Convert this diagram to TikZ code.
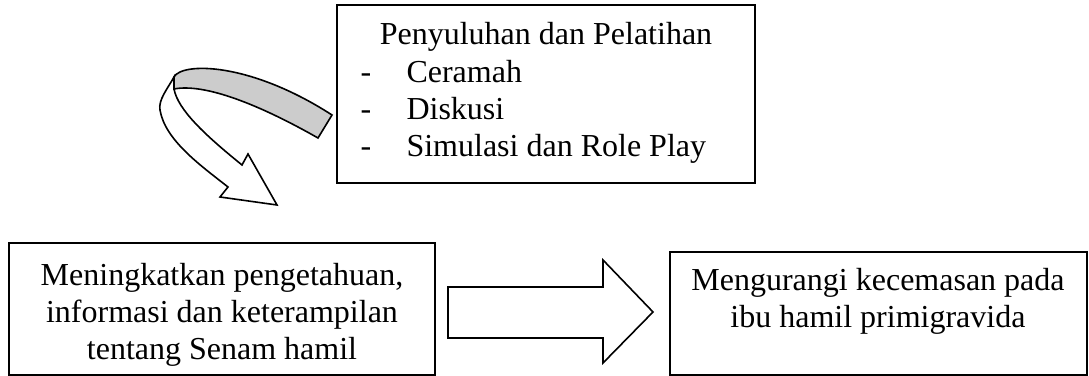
\documentclass[tikz,border=0pt]{standalone}
\usepackage{fontspec}
\setmainfont{Liberation Serif}
\usepackage{tikz}
\newdimen\unitpx
\unitpx=0.375pt

\begin{document}
\begin{tikzpicture}[x=0.375pt,y=-0.375pt,
    frame/.style={draw=black,line width=0.6pt,inner sep=0pt},
    txt/.style={inner sep=0pt,font=\fontsize{12}{13.9}\selectfont},
    shapeline/.style={draw=black,line width=0.6pt,line join=miter}]

\useasboundingbox (0,0) rectangle (1089,376);

% boxes
\node[frame,line width=0.9pt,minimum width=418\unitpx,minimum height=178\unitpx] (train) at (546,94) {};
\node[frame,minimum width=426\unitpx,minimum height=132\unitpx] (know) at (222,309) {};
\node[frame,minimum width=417\unitpx,minimum height=123\unitpx] (reduce) at (878.5,313.5) {};

% texts
\node[txt,anchor=base] (title) at (546,45) {Penyuluhan dan Pelatihan};
\foreach \lbl [count=\i] in {Ceramah,Diskusi,Simulasi dan Role Play}{
  \node[txt,anchor=base west] (dash\i) at (360,{46+37*\i}) {-};
  \node[txt,anchor=base west] (item\i) at (406,{46+37*\i}) {\lbl};
}
\node[txt,align=center,anchor=north] (knowtext) at (222,263) {Meningkatkan pengetahuan,\\informasi dan keterampilan\\tentang Senam hamil};
\node[txt,align=center,anchor=north] (reducetext) at (878,268) {Mengurangi kecemasan pada\\ibu hamil primigravida};

% block arrow
\draw[shapeline,fill=white] (448,287) -- (603,287) -- (603,260) -- (653,312) -- (603,363) -- (603,338) -- (448,338) -- cycle;

% curved arrow
\draw[shapeline,fill=white] (174,77) .. controls (168,88) and (158,100) .. (160,110)
    .. controls (165,140) and (200,165) .. (228,187) -- (220,197) -- (277,205) -- (248,154) -- (242,165)
    .. controls (205,135) and (178,110) .. (174,89) -- cycle;
\draw[shapeline,fill=black!20] (174,77) .. controls (182,62) and (250,62) .. (332,115) -- (318,138)
    .. controls (260,105) and (205,83) .. (174,89) -- cycle;
\end{tikzpicture}
\end{document}
